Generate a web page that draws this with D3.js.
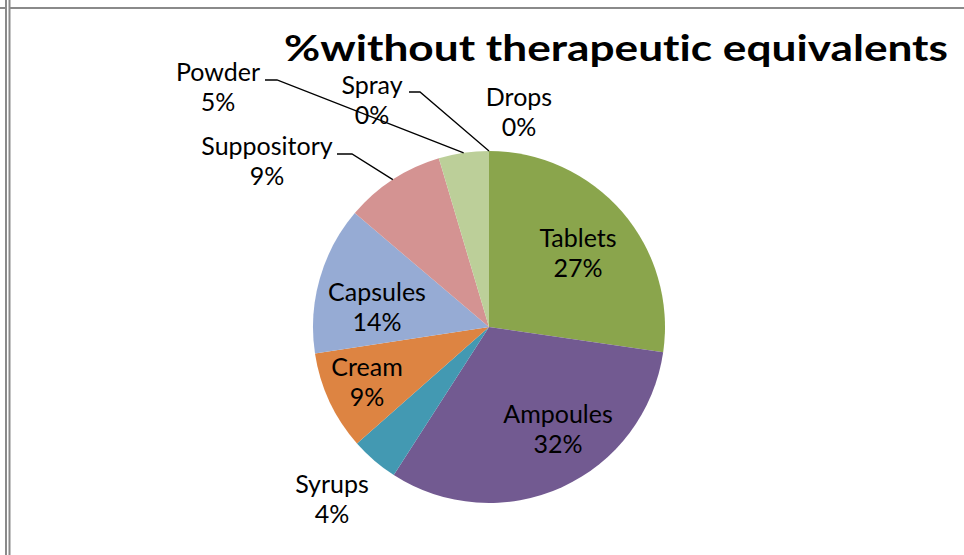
<!DOCTYPE html>
<html><head><meta charset="utf-8">
<script src="https://cdn.jsdelivr.net/npm/d3@7"></script>
<style>body{margin:0;background:#fff}svg{display:block}text{font-family:Lato,"Open Sans",sans-serif;fill:#000;font-variant-ligatures:none;font-feature-settings:"liga" 0,"clig" 0}</style>
</head><body>
<svg id="c" width="964" height="555"></svg>
<script>
const categories = ["Tablets","Ampoules","Syrups","Cream","Capsules","Suppository","Powder","Spray","Drops"];
const values = [27.3, 31.8, 4.4, 9.1, 13.6, 9.2, 4.6, 0, 0];
const pctLabels = ["27%","32%","4%","9%","14%","9%","5%","0%","0%"];
const colors = ["#8aa54c","#725a91","#4399b2","#dd8442","#96abd4","#d49392","#bccf99","#a5a5a5","#f7b27c"];
const title = "%without therapeutic equivalents";

const svg = d3.select("#c");
const W = 964, H = 555;
// frame
const g0 = svg.append("g").attr("stroke","#8a8a8a").attr("stroke-width",2);
g0.append("line").attr("x1",0).attr("x2",5).attr("y1",8).attr("y2",8);
g0.append("line").attr("x1",10).attr("x2",W).attr("y1",8).attr("y2",8);
g0.append("line").attr("x1",6).attr("x2",6).attr("y1",0).attr("y2",H);
g0.append("line").attr("x1",9.5).attr("x2",9.5).attr("y1",0).attr("y2",H);

const cx = 489, cy = 327, R = 176;
const data = categories.map((c,i)=>({cat:c, v:values[i], lab:pctLabels[i], col:colors[i]}));
const pie = d3.pie().value(d=>d.v).sort(null);
const arcs = pie(data);
const arc = d3.arc().innerRadius(0).outerRadius(R);
const g = svg.append("g").attr("transform",`translate(${cx},${cy})`);
g.selectAll("path").data(arcs.filter(a=>a.data.v>0)).join("path")
  .attr("d",arc).attr("fill",d=>d.data.col);

// label layout (centre x, first baseline)
const labelPos = {
  Tablets:[578,247], Ampoules:[558,423], Syrups:[332,493], Cream:[367,376],
  Capsules:[377,301], Suppository:[267,155], Powder:[218,81], Spray:[372,94], Drops:[519,106]
};
const leaders = { Powder:[265,277,80], Spray:[409,420,92], Suppository:[337,352,154] };
const fs = 25;
arcs.forEach(a=>{
  const p = labelPos[a.data.cat];
  const t = svg.append("text").attr("text-anchor","middle").attr("font-size",fs);
  t.append("tspan").attr("x",p[0]).attr("y",p[1]).text(a.data.cat);
  t.append("tspan").attr("x",p[0]).attr("y",p[1]+30).text(a.data.lab);
  const L = leaders[a.data.cat];
  if(L){
    const m = (a.startAngle+a.endAngle)/2;
    const ex = cx + R*Math.sin(m), ey = cy - R*Math.cos(m);
    svg.append("path").attr("fill","none").attr("stroke","#000").attr("stroke-width",1.3)
      .attr("d",`M${L[0]},${L[2]}H${L[1]}L${ex},${ey}`);
  }
});
svg.append("text").attr("x",284).attr("y",61).attr("font-size",37).attr("font-weight","bold")
  .attr("textLength",664).attr("lengthAdjust","spacingAndGlyphs").text(title);
</script>
</body></html>
